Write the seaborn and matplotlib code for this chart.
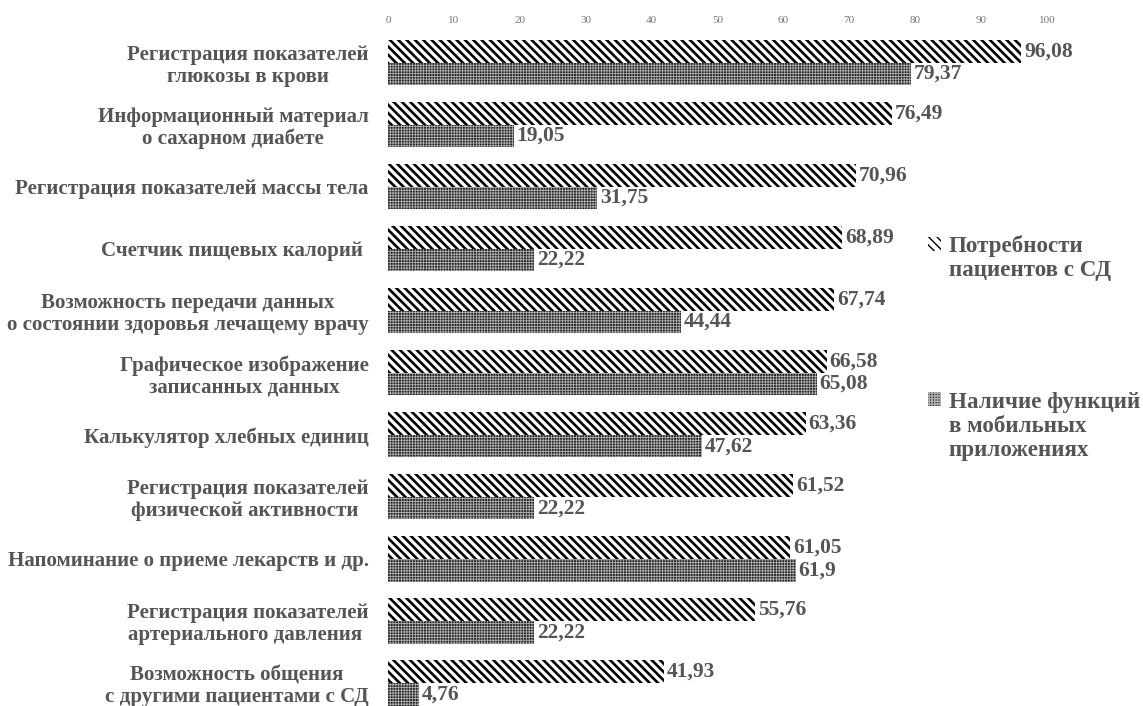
import numpy as np
import pandas as pd
import matplotlib
matplotlib.use("Agg")
import matplotlib.pyplot as plt
from matplotlib.patches import Rectangle
from matplotlib.legend_handler import HandlerPatch
import seaborn as sns

categories = [
    "Регистрация показателей\nглюкозы в крови",
    "Информационный материал\nо сахарном диабете",
    "Регистрация показателей массы тела",
    "Счетчик пищевых калорий ",
    "Возможность передачи данных\nо состоянии здоровья лечащему врачу",
    "Графическое изображение\nзаписанных данных",
    "Калькулятор хлебных единиц",
    "Регистрация показателей\nфизической активности ",
    "Напоминание о приеме лекарств и др.",
    "Регистрация показателей\nартериального давления ",
    "Возможность общения\nс другими пациентами с СД",
]
needs = [96.08, 76.49, 70.96, 68.89, 67.74, 66.58, 63.36, 61.52, 61.05, 55.76, 41.93]
available = [79.37, 19.05, 31.75, 22.22, 44.44, 65.08, 47.62, 22.22, 61.9, 22.22, 4.76]
series_names = ["Потребности\nпациентов с СД", "Наличие функций\nв мобильных\nприложениях"]
x_ticks = [0, 10, 20, 30, 40, 50, 60, 70, 80, 90, 100]

df = pd.DataFrame({
    "category": categories * 2,
    "value": needs + available,
    "series": [series_names[0]] * len(categories) + [series_names[1]] * len(categories),
})

sns.set_theme(style="white")
plt.rcParams["font.family"] = ["Liberation Serif", "DejaVu Serif"]
text_color = "#555555"

fig = plt.figure(figsize=(11.43, 7.06), dpi=100)
ax = fig.add_axes([388 / 1143, -8 / 706, (1047 - 388) / 1143, 682.5 / 706])

sns.barplot(data=df, y="category", x="value", hue="series", orient="h",
            order=categories, hue_order=series_names, width=0.73,
            dodge=True, palette=["white", "#1c1c1c"], saturation=1,
            linewidth=0, legend=True, ax=ax, errorbar=None)

styles = [
    dict(face="white", edge="black", hatch="\\\\\\\\", hlw=1.9),
    dict(face="#262626", edge="#b0b0b0", hatch="++++++", hlw=0.6),
]
for cont, st in zip(ax.containers, styles):
    for p in cont:
        p.set_facecolor(st["face"])
        p.set_edgecolor(st["edge"])
        p.set_linewidth(0)
        p.set_hatch(st["hatch"])
        if hasattr(p, "set_hatch_linewidth"):
            p.set_hatch_linewidth(st["hlw"])

for cont, vals in zip(ax.containers, [needs, available]):
    labels = [f"{v:g}".replace(".", ",") for v in vals]
    ax.bar_label(cont, labels=labels, padding=2, fontsize=15.5,
                 fontweight="bold", color=text_color)

ax.set_xlim(0, 100)
ax.set_xticks(x_ticks)
ax.xaxis.tick_top()
ax.tick_params(axis="x", length=0, labelsize=8, colors="#777777", pad=5)
ax.tick_params(axis="y", length=0, pad=14)
for lbl in ax.get_yticklabels():
    lbl.set_fontsize(15.1)
    lbl.set_fontweight("bold")
    lbl.set_color(text_color)
    lbl.set_multialignment("center")
    lbl.set_linespacing(1.1)
ax.set_xlabel("")
ax.set_ylabel("")
for s in ax.spines.values():
    s.set_visible(False)

legend_size = 16.6


def first_line_box(n_lines):
    # put the swatch beside the first text line of a multi-line label
    def make(legend, orig_handle, xdescent, ydescent, width, height, fontsize):
        shift = (n_lines - 1) / 2 * fontsize * 1.2
        return Rectangle((-xdescent, -ydescent + shift), width, height)
    return make


handles, labels = ax.get_legend_handles_labels()
handler_map = {}
for h, st, lab in zip(handles, styles, labels):
    h.set_facecolor(st["face"])
    h.set_edgecolor(st["edge"])
    h.set_linewidth(0)
    h.set_hatch(st["hatch"])
    if hasattr(h, "set_hatch_linewidth"):
        h.set_hatch_linewidth(st["hlw"] * 0.7)
    handler_map[h] = HandlerPatch(patch_func=first_line_box(lab.count("\n") + 1))

ax.legend(handles, labels, handler_map=handler_map, loc="upper left",
          bbox_to_anchor=(928 / 1143, 1 - 235 / 706),
          bbox_transform=fig.transFigure, frameon=False, handlelength=0.55,
          handleheight=0.55, handletextpad=0.35, labelspacing=4.8,
          prop={"size": legend_size, "weight": "bold"}, labelcolor=text_color,
          borderaxespad=0, borderpad=0)

fig.savefig("out.png", dpi=100)
